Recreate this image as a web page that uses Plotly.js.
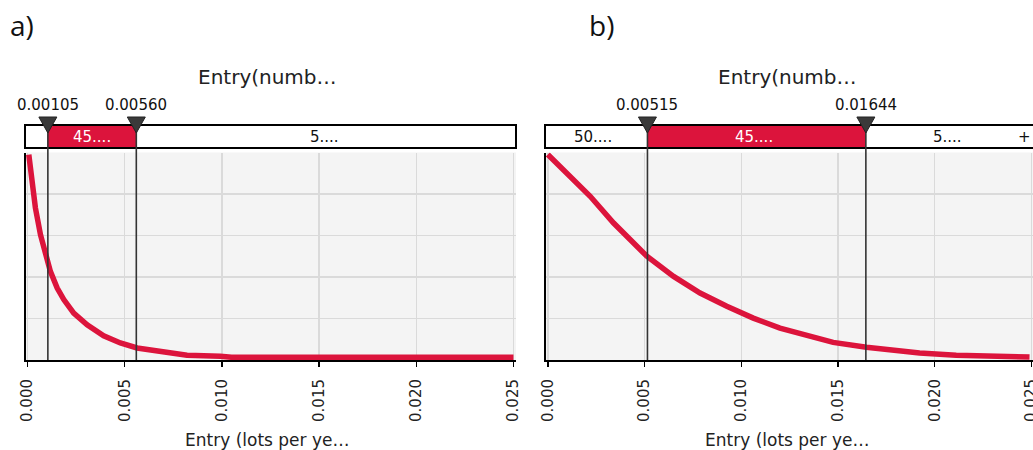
<!DOCTYPE html>
<html>
<head>
<meta charset="utf-8">
<script src="https://cdn.plot.ly/plotly-3.0.1.min.js"></script>
<style>
html,body{margin:0;padding:0;background:#fff;}
#chart{width:1033px;height:450px;}
</style>
</head>
<body>
<div id="chart"></div>
<script>
// ---------- data ----------
const panelLabels = ["a)", "b)"];
const chartTitle = "Entry(numb\u2026";
const axisTitle = "Entry (lots per ye\u2026";

// Panel a: exceedance curve
const entryA = [0.00007, 0.00024, 0.00041, 0.00067, 0.00092, 0.00118, 0.00153, 0.00187, 0.00238, 0.00307, 0.00392, 0.00478, 0.00564, 0.00649, 0.00735, 0.00821, 0.00992, 0.0105, 0.025];
const probA  = [0.99, 0.861, 0.733, 0.604, 0.507, 0.427, 0.347, 0.291, 0.226, 0.170, 0.117, 0.082, 0.058, 0.047, 0.034, 0.023, 0.018, 0.013, 0.013];
const markersA = [0.00105, 0.00560];
const segLabelsA = ["", "45....", "5...."];

// Panel b: exceedance curve
const entryB = [0.0, 0.00099, 0.00219, 0.0034, 0.00426, 0.00512, 0.0065, 0.00787, 0.00925, 0.01062, 0.012, 0.01338, 0.01475, 0.01647, 0.01784, 0.01922, 0.02111, 0.0249];
const probB  = [0.99, 0.901, 0.789, 0.66, 0.58, 0.50, 0.403, 0.323, 0.259, 0.202, 0.154, 0.119, 0.085, 0.061, 0.045, 0.034, 0.023, 0.014];
const markersB = [0.00515, 0.01644];
const segLabelsB = ["50....", "45....", "5....", "+"];

const tickVals = [0, 0.005, 0.010, 0.015, 0.020, 0.025];

// ---------- style ----------
const W = 1033, H = 450;
const px = v => v / W;          // horizontal pixel -> paper
const py = v => (H - v) / H;    // vertical pixel -> paper
const RED = "#dc143c";
const FONT = "DejaVu Sans";

const barTop = py(125), barBot = py(148);
const plotBot = py(360), plotTop = py(152.5);

function axisX(domain, range) {
  return {
    domain: domain, range: range, tickvals: tickVals, tickformat: ".3f",
    tickangle: -90, ticks: "outside", ticklen: 5, tickwidth: 1.5, tickcolor: "#000",
    ticklabelstandoff: 6, ticklabeloverflow: "allow",
    tickfont: {family: FONT, size: 15, color: "#222"},
    showline: true, linecolor: "#000", linewidth: 2,
    showgrid: true, gridcolor: "#dadada", gridwidth: 1.5, zeroline: false, fixedrange: true
  };
}
function axisY(anchor) {
  return {
    domain: [plotBot, plotTop], range: [0, 1], dtick: 0.2, anchor: anchor,
    showticklabels: false, ticks: "", showline: true, linecolor: "#000", linewidth: 2,
    showgrid: true, gridcolor: "#dadada", gridwidth: 1.5, zeroline: false, fixedrange: true
  };
}

const traces = [
  {x: entryA, y: probA, xaxis: "x", yaxis: "y", mode: "lines", line: {color: RED, width: 5.5}, hoverinfo: "skip"},
  {x: entryB, y: probB, xaxis: "x2", yaxis: "y2", mode: "lines", line: {color: RED, width: 5.5}, hoverinfo: "skip"}
];

const shapes = [];
const annotations = [];

function addPanel(xref, leftPx, rightPx, markers, segLabels, segCentersPx, titleCenterPx, panelLabel, panelLabelPx) {
  shapes.push({type: "rect", xref: "paper", yref: "paper", x0: px(leftPx), x1: px(rightPx), y0: barBot, y1: barTop,
    fillcolor: "#fff", line: {width: 0}, layer: "above"});
  shapes.push({type: "rect", xref: xref, yref: "paper", x0: markers[0], x1: markers[1], y0: barBot, y1: barTop,
    fillcolor: RED, line: {width: 0}, layer: "above"});
  shapes.push({type: "rect", xref: "paper", yref: "paper", x0: px(leftPx), x1: px(rightPx), y0: barBot, y1: barTop,
    fillcolor: "rgba(0,0,0,0)", line: {color: "#000", width: 2}, layer: "above"});
  markers.forEach(m => {
    shapes.push({type: "line", xref: xref, yref: "paper", x0: m, x1: m, y0: plotBot, y1: barTop,
      line: {color: "#333", width: 1.6}, layer: "above"});
    shapes.push({type: "path", xref: xref, yref: "paper", xsizemode: "pixel", ysizemode: "pixel",
      xanchor: m, yanchor: barTop, path: "M -9 8 L 9 8 L 0 -8 Z",
      fillcolor: "#3a3a3a", line: {color: "#222", width: 1}, layer: "above"});
    annotations.push({xref: xref, yref: "paper", x: m, y: py(105), text: m.toFixed(5), showarrow: false,
      xanchor: "center", yanchor: "middle", font: {family: FONT, size: 15, color: "#111"}});
  });
  segLabels.forEach((t, i) => {
    if (!t) return;
    const last = (i === segLabels.length - 1 && t === "+");
    annotations.push({xref: "paper", yref: "paper", x: px(segCentersPx[i]), y: py(137), text: t, showarrow: false,
      xanchor: last ? "right" : "center", yanchor: "middle",
      font: {family: FONT, size: 15, color: i === 1 ? "#fff" : "#111"}});
  });
  annotations.push({xref: "paper", yref: "paper", x: px(titleCenterPx), y: py(77), text: chartTitle, showarrow: false,
    xanchor: "center", yanchor: "middle", font: {family: FONT, size: 20, color: "#222"}});
  annotations.push({xref: "paper", yref: "paper", x: px(titleCenterPx), y: py(440), text: axisTitle, showarrow: false,
    xanchor: "center", yanchor: "middle", font: {family: FONT, size: 17, color: "#222"}});
  annotations.push({xref: "paper", yref: "paper", x: px(panelLabelPx), y: py(25), text: panelLabel, showarrow: false,
    xanchor: "center", yanchor: "middle", font: {family: "Open Sans", size: 28, color: "#111"}});
}

addPanel("x", 25, 516, markersA, segLabelsA, [36, 92, 324], 267, panelLabels[0], 22);
addPanel("x2", 545, 1060, markersB, segLabelsB, [593, 754, 947, 1033], 787, panelLabels[1], 601);

const layout = {
  width: W, height: H, margin: {l: 0, r: 0, t: 0, b: 0},
  paper_bgcolor: "#fff", plot_bgcolor: "#f4f4f4", showlegend: false,
  xaxis: axisX([px(25.5), px(516)], [-0.0001, 0.02513]),
  yaxis: axisY("x"),
  xaxis2: axisX([px(545.5), 1], [-0.00012, 0.02508]),
  yaxis2: axisY("x2"),
  shapes: shapes, annotations: annotations
};
layout.xaxis.anchor = "y";
layout.xaxis2.anchor = "y2";

Plotly.newPlot("chart", traces, layout, {staticPlot: true, displayModeBar: false});
</script>
</body>
</html>
